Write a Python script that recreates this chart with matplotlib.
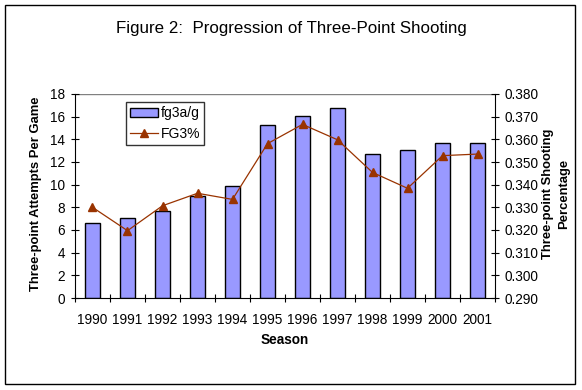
import matplotlib
matplotlib.use("Agg")
import matplotlib.pyplot as plt
from matplotlib.patches import Rectangle

plt.rcParams['font.family'] = ['Liberation Sans', 'DejaVu Sans']

seasons = ['1990', '1991', '1992', '1993', '1994', '1995', '1996', '1997', '1998', '1999', '2000', '2001']
fg3a_per_game = [6.6, 7.1, 7.7, 9.0, 9.9, 15.3, 16.1, 16.8, 12.7, 13.1, 13.7, 13.7]
fg3_pct = [0.330, 0.3197, 0.3307, 0.3362, 0.3335, 0.3581, 0.3666, 0.3598, 0.3454, 0.3384, 0.3528, 0.3535]
left_ticks = [0, 2, 4, 6, 8, 10, 12, 14, 16, 18]
right_ticks = [0.290, 0.300, 0.310, 0.320, 0.330, 0.340, 0.350, 0.360, 0.370, 0.380]

W, H = 582, 390
fig = plt.figure(figsize=(W / 100, H / 100), dpi=100)
fig.patch.set_facecolor('white')

# outer border
fig.patches.append(Rectangle((5 / W, 1 - 384 / H), 570 / W, 379 / H, transform=fig.transFigure,
                             fill=False, edgecolor='black', linewidth=1.0))

x0, x1, y0, y1 = 75, 495, 94, 298
ax = fig.add_axes([x0 / W, 1 - y1 / H, (x1 - x0) / W, (y1 - y0) / H])
xs = list(range(len(seasons)))
ax.bar(xs, fg3a_per_game, width=0.41, color='#9999FF', edgecolor='black', linewidth=1.0,
       label='fg3a/g', zorder=2)
ax.set_xlim(-0.5, len(seasons) - 0.5)
ax.set_ylim(0, 18)
ax.set_yticks(left_ticks)
ax.set_xticks(xs)
ax.set_xticklabels(seasons, fontsize=9.8)
ax.set_xticks([i - 0.5 for i in range(len(seasons) + 1)], minor=True)
ax.tick_params(axis='x', which='major', length=0, pad=11)
ax.tick_params(axis='x', which='minor', length=6, direction='inout', width=0.8)
ax.tick_params(axis='y', length=6, direction='inout', labelsize=9.8, width=0.8, pad=4)
for s in ['top', 'right']:
    ax.spines[s].set_visible(False)
ax.spines['left'].set_linewidth(0.8)
ax.spines['bottom'].set_linewidth(0.8)
ax.axhline(18, color='#808080', linewidth=1.0, zorder=1)

ax2 = ax.twinx()
ax2.plot(xs, fg3_pct, color='#993300', linewidth=0.9, marker='^', markersize=5.5,
         markerfacecolor='#993300', markeredgecolor='#993300', label='FG3%', zorder=3)
ax2.set_ylim(0.290, 0.380)
ax2.set_yticks(right_ticks)
ax2.set_yticklabels([f'{v:.3f}' for v in right_ticks])
ax2.tick_params(axis='y', length=6, direction='inout', labelsize=9.8, width=0.8, pad=4)
for s in ['top', 'left', 'bottom']:
    ax2.spines[s].set_visible(False)
ax2.spines['right'].set_linewidth(0.8)

fig.text(0.5, 1 - 28 / H, 'Figure 2:  Progression of Three-Point Shooting', ha='center', va='center',
         fontsize=12.2)
fig.text(36 / W, 1 - 194 / H, 'Three-point Attempts Per Game', rotation=90, ha='center', va='center',
         fontsize=9.4, fontweight='bold')
fig.text(556 / W, 1 - 194 / H, 'Three-point Shooting\nPercentage', rotation=90, ha='center', va='center',
         fontsize=9.4, fontweight='bold', linespacing=1.55)
fig.text((x0 + x1) / 2 / W, 1 - 340 / H, 'Season', ha='center', va='center', fontsize=9.8, fontweight='bold')

h1, l1 = ax.get_legend_handles_labels()
h2, l2 = ax2.get_legend_handles_labels()
leg = ax2.legend(h1 + h2, l1 + l2, loc='upper left',
                 bbox_to_anchor=((126 - x0) / (x1 - x0), 1 - (102 - y0) / (y1 - y0)),
                 fontsize=10, frameon=True, fancybox=False, borderpad=0.3, handlelength=2.0,
                 handleheight=0.6, handletextpad=0.2, labelspacing=0.5, borderaxespad=0)
leg.get_frame().set_edgecolor('black')
leg.get_frame().set_linewidth(1.0)

fig.savefig('out.png', dpi=100, facecolor='white')
